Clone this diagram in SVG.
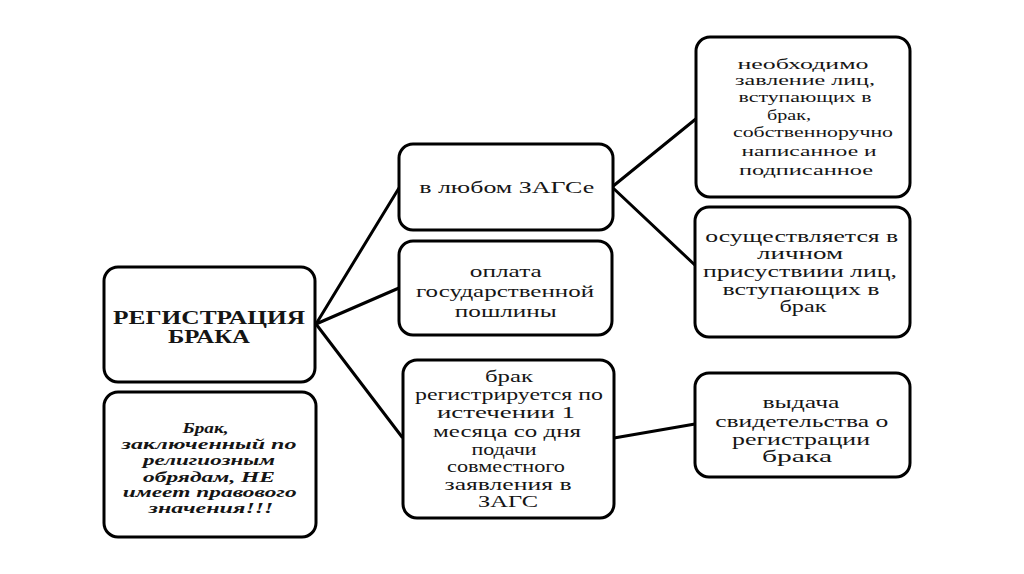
<svg xmlns="http://www.w3.org/2000/svg" width="1024" height="574" viewBox="0 0 1024 574">
<style>
.box{fill:#fff;stroke:#000;stroke-width:3}
.con{stroke:#000;stroke-width:3;fill:none;stroke-linecap:round}
text{font-family:"Liberation Serif","Times New Roman",serif;fill:#151515;text-anchor:middle}
.t{font-size:16px}
.s{font-size:15.5px}
.b{font-size:18px;font-weight:bold}
.bi{font-size:15px;font-weight:bold;font-style:italic}
</style>
<rect width="1024" height="574" fill="#fff"/>
<g id="connectors">
<line class="con" x1="316" y1="324" x2="399" y2="188"/>
<line class="con" x1="316" y1="324" x2="399" y2="288"/>
<line class="con" x1="316" y1="324" x2="402" y2="437"/>
<line class="con" x1="612" y1="187" x2="697" y2="118"/>
<line class="con" x1="612" y1="187" x2="697" y2="267"/>
<line class="con" x1="614" y1="438" x2="695" y2="424"/>
</g>
<g id="n-registration">
<rect class="box" x="104" y="267" width="211" height="115" rx="14"/>
<text class="b" x="209" y="323.5" textLength="192" lengthAdjust="spacingAndGlyphs">РЕГИСТРАЦИЯ</text>
<text class="b" x="209" y="343" textLength="82" lengthAdjust="spacingAndGlyphs">БРАКА</text>
</g>
<g id="n-religious">
<rect class="box" x="104" y="392" width="212" height="145" rx="14"/>
<text class="bi" x="205.5" y="433" textLength="46" lengthAdjust="spacingAndGlyphs">Брак,</text>
<text class="bi" x="209" y="449" textLength="175" lengthAdjust="spacingAndGlyphs">заключенный по</text>
<text class="bi" x="209" y="465" textLength="132" lengthAdjust="spacingAndGlyphs">религиозным</text>
<text class="bi" x="209" y="481.5" textLength="132" lengthAdjust="spacingAndGlyphs">обрядам, НЕ</text>
<text class="bi" x="209.7" y="497" textLength="174" lengthAdjust="spacingAndGlyphs">имеет правового</text>
<text class="bi" x="211" y="513" textLength="125" lengthAdjust="spacingAndGlyphs">значения!!!</text>
</g>
<g id="n-zags">
<rect class="box" x="399" y="144" width="214" height="86" rx="14"/>
<text class="t" x="506.7" y="193" textLength="175" lengthAdjust="spacingAndGlyphs">в любом ЗАГСе</text>
</g>
<g id="n-fee">
<rect class="box" x="399" y="241" width="213" height="94" rx="14"/>
<text class="t" x="505.8" y="277" textLength="72" lengthAdjust="spacingAndGlyphs">оплата</text>
<text class="t" x="505" y="297" textLength="178" lengthAdjust="spacingAndGlyphs">государственной</text>
<text class="t" x="505.8" y="317" textLength="102" lengthAdjust="spacingAndGlyphs">пошлины</text>
</g>
<g id="n-month">
<rect class="box" x="403" y="360" width="211" height="158" rx="14"/>
<text class="t" x="509" y="382" textLength="48" lengthAdjust="spacingAndGlyphs">брак</text>
<text class="t" x="509" y="399.5" textLength="188" lengthAdjust="spacingAndGlyphs">регистрируется по</text>
<text class="t" x="506" y="418" textLength="138" lengthAdjust="spacingAndGlyphs">истечении 1</text>
<text class="t" x="507" y="437" textLength="148" lengthAdjust="spacingAndGlyphs">месяца со дня</text>
<text class="t" x="504" y="455" textLength="65" lengthAdjust="spacingAndGlyphs">подачи</text>
<text class="t" x="506" y="472" textLength="118" lengthAdjust="spacingAndGlyphs">совместного</text>
<text class="t" x="508" y="489.5" textLength="127" lengthAdjust="spacingAndGlyphs">заявления в</text>
<text class="t" x="508" y="507" textLength="60" lengthAdjust="spacingAndGlyphs">ЗАГС</text>
</g>
<g id="n-application">
<rect class="box" x="696" y="37" width="214" height="160" rx="14"/>
<text class="s" x="803" y="68.5" textLength="131" lengthAdjust="spacingAndGlyphs">необходимо</text>
<text class="s" x="805" y="85" textLength="140" lengthAdjust="spacingAndGlyphs">завление лиц,</text>
<text class="s" x="805" y="102" textLength="133" lengthAdjust="spacingAndGlyphs">вступающих в</text>
<text class="s" x="789" y="120" textLength="44" lengthAdjust="spacingAndGlyphs">брак,</text>
<text class="s" x="813" y="137" textLength="160" lengthAdjust="spacingAndGlyphs">собственноручно</text>
<text class="s" x="809" y="156" textLength="135" lengthAdjust="spacingAndGlyphs">написанное и</text>
<text class="s" x="806" y="175" textLength="134" lengthAdjust="spacingAndGlyphs">подписанное</text>
</g>
<g id="n-presence">
<rect class="box" x="695" y="207" width="215" height="130" rx="14"/>
<text class="t" x="801.7" y="241.5" textLength="193" lengthAdjust="spacingAndGlyphs">осуществляется в</text>
<text class="t" x="800" y="259" textLength="86" lengthAdjust="spacingAndGlyphs">личном</text>
<text class="t" x="800" y="276.5" textLength="194" lengthAdjust="spacingAndGlyphs">присуствиии лиц,</text>
<text class="t" x="801" y="295" textLength="157" lengthAdjust="spacingAndGlyphs">вступающих в</text>
<text class="t" x="803" y="312" textLength="47" lengthAdjust="spacingAndGlyphs">брак</text>
</g>
<g id="n-certificate">
<rect class="box" x="695" y="373" width="215" height="104" rx="14"/>
<text class="t" x="801" y="408" textLength="77" lengthAdjust="spacingAndGlyphs">выдача</text>
<text class="t" x="801.7" y="426.5" textLength="173" lengthAdjust="spacingAndGlyphs">свидетельства о</text>
<text class="t" x="801" y="444.5" textLength="138" lengthAdjust="spacingAndGlyphs">регистрации</text>
<text class="t" x="797" y="462" textLength="70" lengthAdjust="spacingAndGlyphs">брака</text>
</g>
</svg>
